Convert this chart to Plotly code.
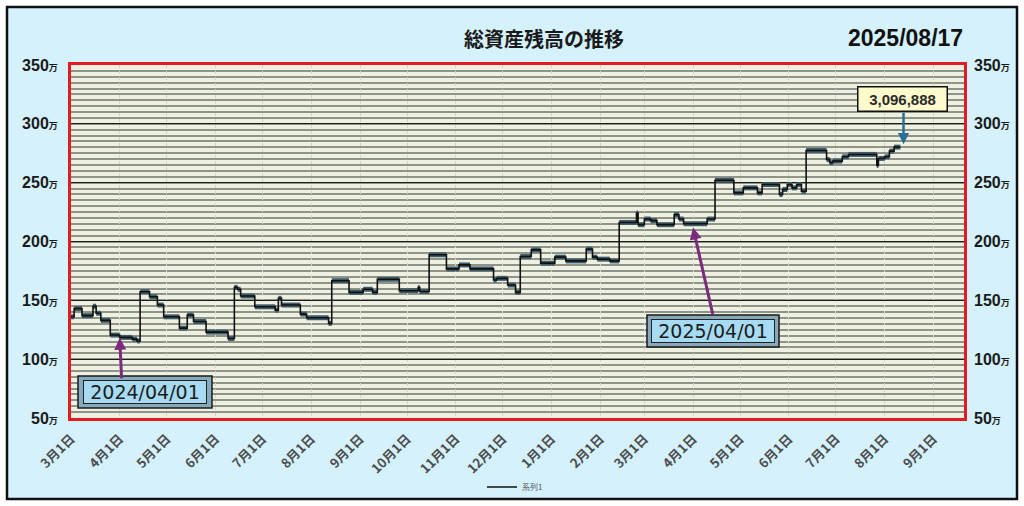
import plotly.graph_objects as go

# ---- data (values in 万円) ----
dates = [
    "2024-03-01", "2024-03-03", "2024-03-08", "2024-03-15", "2024-03-17", "2024-03-20",
    "2024-03-26", "2024-04-01", "2024-04-09", "2024-04-12", "2024-04-14", "2024-04-20",
    "2024-04-25", "2024-04-29", "2024-05-09", "2024-05-14", "2024-05-18", "2024-05-26",
    "2024-06-09", "2024-06-13", "2024-06-15", "2024-06-17", "2024-06-26", "2024-07-09",
    "2024-07-11", "2024-07-13", "2024-07-25", "2024-07-29", "2024-08-12", "2024-08-14",
    "2024-08-25", "2024-09-03", "2024-09-09", "2024-09-12", "2024-09-26", "2024-10-08",
    "2024-10-09", "2024-10-15", "2024-10-26", "2024-11-03", "2024-11-10", "2024-11-25",
    "2024-11-27", "2024-12-04", "2024-12-09", "2024-12-12", "2024-12-19", "2024-12-25",
    "2025-01-03", "2025-01-10", "2025-01-23", "2025-01-27", "2025-01-30", "2025-02-07",
    "2025-02-13", "2025-02-24", "2025-02-25", "2025-03-01", "2025-03-05", "2025-03-09",
    "2025-03-20", "2025-03-23", "2025-03-26", "2025-04-10", "2025-04-15", "2025-04-27",
    "2025-05-03", "2025-05-12", "2025-05-15", "2025-05-26", "2025-05-28", "2025-05-31",
    "2025-06-03", "2025-06-06", "2025-06-09", "2025-06-12", "2025-06-25", "2025-06-27",
    "2025-06-29", "2025-07-05", "2025-07-09", "2025-07-27", "2025-07-28", "2025-08-01",
    "2025-08-04", "2025-08-07",
]
values = [
    136.0, 143.0, 137.0, 145.0, 139.0, 133.0,
    120.5, 118.5, 117.0, 115.5, 157.3, 153.0,
    146.0, 136.0, 126.4, 137.5, 132.0, 123.0,
    117.6, 161.0, 159.4, 153.7, 144.5, 141.7,
    151.7, 146.0, 138.3, 135.2, 130.4, 166.7,
    156.8, 159.4, 156.8, 167.9, 158.2, 161.0,
    157.5, 188.7, 176.7, 180.1, 176.7, 167.3,
    168.7, 163.0, 156.8, 187.2, 192.9, 181.6,
    186.7, 183.5, 193.5, 186.7, 185.0, 183.5,
    216.2, 224.2, 214.3, 219.1, 217.7, 214.3,
    222.8, 219.1, 215.1, 219.1, 252.0, 241.3,
    245.6, 241.3, 248.4, 239.9, 244.2, 248.4,
    245.6, 248.4, 242.7, 277.4, 269.7, 266.9,
    268.3, 272.0, 274.0, 264.6, 270.6, 272.0,
    276.8, 280.2,
]
end_date = "2025-08-11"
series_name = "系列1"

month_ticks = [
    "2024-03-01", "2024-04-01", "2024-05-01", "2024-06-01", "2024-07-01", "2024-08-01",
    "2024-09-01", "2024-10-01", "2024-11-01", "2024-12-01", "2025-01-01", "2025-02-01",
    "2025-03-01", "2025-04-01", "2025-05-01", "2025-06-01", "2025-07-01", "2025-08-01",
    "2025-09-01",
]
month_labels = ["3月1日", "4月1日", "5月1日", "6月1日", "7月1日", "8月1日", "9月1日",
                "10月1日", "11月1日", "12月1日", "1月1日", "2月1日", "3月1日", "4月1日",
                "5月1日", "6月1日", "7月1日", "8月1日", "9月1日"]
y_ticks = [50, 100, 150, 200, 250, 300, 350]
y_labels = [f"<b>{v}</b><span style='font-size:9px'><b>万</b></span>" for v in y_ticks]

title_text = "総資産残高の推移"
date_text = "2025/08/17"
latest_text = "3,096,888"
callout1 = ("2024-04-01", 118.2, "2024/04/01")
callout2 = ("2025-04-01", 211.9, "2025/04/01")
latest_point = ("2025-08-13", 282.7)

# ---- pixel helpers for layout (plot area: x 71..964, y 65..418) ----
W, H = 1024, 506
L, R, T, B = 71, 964, 65, 418
def px(x):
    return (x - L) / (R - L)
def py(y):
    return (B - y) / (B - T)

# thick band for horizontal levels (built from the data arrays)
seg_x, seg_y = [], []
all_x = dates + [end_date]
for i in range(len(values)):
    seg_x += [all_x[i], all_x[i + 1], None]
    seg_y += [values[i], values[i], None]

fig = go.Figure()
fig.add_trace(go.Scatter(x=seg_x, y=seg_y, mode="lines",
                         line=dict(color="#3f5a68", width=5),
                         showlegend=False, hoverinfo="skip"))
fig.add_trace(go.Scatter(x=all_x, y=values + [values[-1]], mode="lines",
                         line=dict(color="#111111", width=1.6, shape="hv"),
                         name=series_name))
fig.add_trace(go.Scatter(x=[dates[0]], y=[values[0]], yaxis="y2", mode="markers",
                         marker=dict(opacity=0), showlegend=False, hoverinfo="skip"))

red = "#e31b23"
yfont = dict(family="Liberation Sans, Noto Sans CJK JP", size=16, color="#1a1a1a")

fig.update_layout(
    width=W, height=H,
    margin=dict(l=L, r=W - R, t=T, b=H - B, autoexpand=False),
    paper_bgcolor="white",
    plot_bgcolor="#eef1e2",
    xaxis=dict(
        type="date", range=["2024-03-01", "2025-09-20 12:00"],
        tickmode="array", tickvals=month_ticks, ticktext=month_labels,
        tickangle=-45,
        tickfont=dict(family="Noto Sans CJK JP", size=13, color="#4d4d4d", weight="bold"),
        showgrid=True, gridcolor="#d2d6c8", griddash="dot", gridwidth=1,
        showline=True, linecolor=red, linewidth=3, mirror=True,
        ticks="", zeroline=False, ticklabelstandoff=5,
    ),
    yaxis=dict(
        range=[50, 350], tickmode="array", tickvals=y_ticks, ticktext=y_labels,
        tickfont=yfont,
        showgrid=True, gridcolor="#1e1e1e", gridwidth=1.3,
        minor=dict(tickmode="linear", tick0=50, dtick=5, showgrid=True,
                   gridcolor="#8e9588", gridwidth=2),
        showline=True, linecolor=red, linewidth=3, mirror=True,
        ticks="", zeroline=False, ticklabelstandoff=7,
    ),
    yaxis2=dict(
        range=[50, 350], overlaying="y", side="right",
        tickmode="array", tickvals=y_ticks, ticktext=y_labels, tickfont=yfont,
        showgrid=False, showline=False, zeroline=False, ticks="",
        ticklabelstandoff=9,
    ),
    legend=dict(xref="container", yref="container", x=515 / W, y=(H - 487) / H,
                xanchor="center", yanchor="middle",
                orientation="h", bgcolor="rgba(0,0,0,0)", itemwidth=30,
                font=dict(family="Noto Sans CJK JP", size=8, color="#555555")),
    shapes=[
        dict(type="rect", xref="paper", yref="paper",
             x0=px(7), x1=px(1017), y0=py(499), y1=py(7),
             fillcolor="#d4f1fc", line=dict(color="#111111", width=2.5), layer="below"),
        dict(type="rect", xref="paper", yref="paper", x0=0, x1=1, y0=0, y1=1,
             fillcolor="#eef1e2", line=dict(width=0), layer="below"),
        dict(type="rect", xref="paper", yref="paper",
             x0=px(78), x1=px(212), y0=py(408), y1=py(376),
             fillcolor="#86a9bb", line=dict(color="#1a1a1a", width=1.5), layer="above"),
        dict(type="rect", xref="paper", yref="paper",
             x0=px(647), x1=px(779), y0=py(347), y1=py(315),
             fillcolor="#86a9bb", line=dict(color="#1a1a1a", width=1.5), layer="above"),
    ],
)

box_font = dict(family="DejaVu Sans", size=19, color="#1c1c1c")
def pa(**kw):
    d = dict(xref="paper", yref="paper", xanchor="center", yanchor="middle", showarrow=False)
    d.update(kw)
    return d

annotations = [
    pa(x=px(544), y=py(38), text=f"<b>{title_text}</b>",
       font=dict(family="Noto Sans CJK JP", size=20, color="#1a1a1a")),
    pa(x=px(905), y=py(38), text=f"<b>{date_text}</b>",
       font=dict(family="Liberation Sans", size=23, color="#111111")),
    # arrows
    dict(x=callout1[0], y=callout1[1], xref="x", yref="y", text="", showarrow=True,
         ax=2, ay=42, arrowcolor="#7b2a7e", arrowwidth=3, arrowhead=2, arrowsize=0.8),
    dict(x=callout2[0], y=callout2[1], xref="x", yref="y", text="", showarrow=True,
         ax=20, ay=88, arrowcolor="#7b2a7e", arrowwidth=3, arrowhead=2, arrowsize=0.8),
    dict(x=latest_point[0], y=latest_point[1], xref="x", yref="y", text="", showarrow=True,
         ax=0, ay=-33, arrowcolor="#2a6e94", arrowwidth=2.5, arrowhead=2, arrowsize=0.9),
    # boxes
    pa(x=px(145), y=py(392), text=callout1[2], font=box_font, bgcolor="#a6dbf3",
       bordercolor="#222222", borderwidth=1, borderpad=0, width=122, height=22),
    pa(x=px(713), y=py(331), text=callout2[2], font=box_font, bgcolor="#a6dbf3",
       bordercolor="#222222", borderwidth=1, borderpad=0, width=122, height=22),
    pa(x=px(902), y=py(99), text=f"<b>{latest_text}</b>",
       font=dict(family="Liberation Sans", size=15, color="#2b2b2b"),
       bgcolor="#fdfacb", bordercolor="#111111", borderwidth=1.5, borderpad=0,
       width=88, height=23),
]
fig.update_layout(annotations=annotations)

fig.write_html("out.html", config={"displayModeBar": False},
               post_script="document.body.style.margin='0px';document.body.style.overflow='hidden';")
